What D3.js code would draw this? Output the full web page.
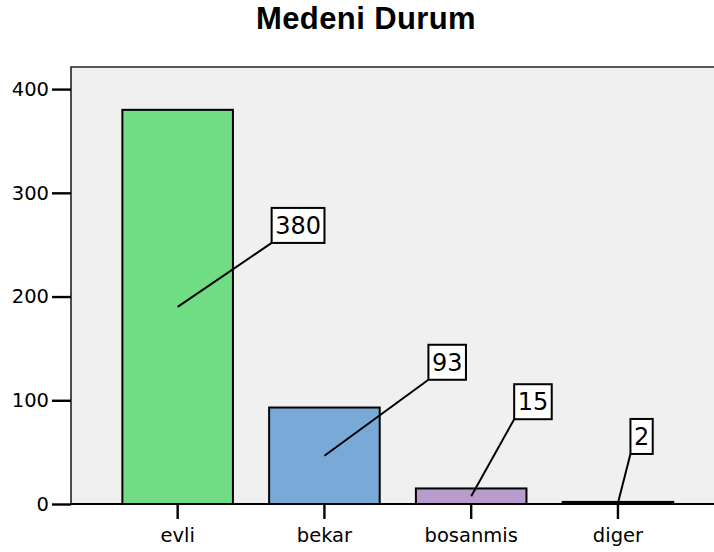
<!DOCTYPE html>
<html>
<head>
<meta charset="utf-8">
<script src="https://cdn.jsdelivr.net/npm/d3@7/dist/d3.min.js"></script>
<style>
  html, body { margin: 0; padding: 0; background: #ffffff; }
  svg { display: block; }
</style>
</head>
<body>
<svg id="chart" width="714" height="552"></svg>
<script>
// Marital status counts
const categories = ["evli", "bekar", "bosanmis", "diger"];
const counts = [380, 93, 15, 2];
const barColors = ["#70dc84", "#79a9d6", "#b99ccb", "#6e6e6e"];
const yTickValues = [0, 100, 200, 300, 400];
const titleText = "Medeni Durum";

// Callout box placement, relative to the middle of each bar
const calloutOffsets = [[94, -64], [104, -76], [43, -77], [12.5, -49]];

const svg = d3.select("#chart");
const plot = { left: 71, top: 67, right: 725, bottom: 504 };

const x = d3.scaleBand()
  .domain(categories)
  .range([plot.left, 724.6])
  .paddingInner(0.2466)
  .paddingOuter(0.35);

const y = d3.scaleLinear()
  .domain([0, 421.3])
  .range([plot.bottom, plot.top]);

// Title
svg.append("text")
  .attr("x", 366)
  .attr("y", 28.5)
  .attr("text-anchor", "middle")
  .attr("font-family", "'Liberation Sans', Arial, sans-serif")
  .attr("font-weight", "bold")
  .attr("font-size", 31)
  .attr("letter-spacing", 0.4)
  .attr("fill", "#000")
  .text(titleText);

// Plot background and frame
svg.append("rect")
  .attr("x", plot.left)
  .attr("y", plot.top)
  .attr("width", plot.right - plot.left)
  .attr("height", plot.bottom - plot.top)
  .attr("fill", "#f0f0f0");

svg.append("path")
  .attr("d", `M${plot.left},${plot.bottom}V${plot.top}H${plot.right}`)
  .attr("fill", "none")
  .attr("stroke", "#222")
  .attr("stroke-width", 1.6);

// Bars
svg.append("g")
  .selectAll("rect")
  .data(categories)
  .join("rect")
  .attr("x", d => x(d))
  .attr("y", (d, i) => y(counts[i]))
  .attr("width", x.bandwidth())
  .attr("height", (d, i) => y(0) - y(counts[i]))
  .attr("fill", (d, i) => barColors[i])
  .attr("stroke", "#000")
  .attr("stroke-width", 2);

// Baseline
svg.append("line")
  .attr("x1", plot.left)
  .attr("x2", plot.right)
  .attr("y1", y(0))
  .attr("y2", y(0))
  .attr("stroke", "#000")
  .attr("stroke-width", 2);

// Y axis
const yAxis = svg.append("g")
  .attr("transform", `translate(${plot.left},0)`)
  .call(d3.axisLeft(y).tickValues(yTickValues).tickSize(19).tickPadding(3).tickSizeOuter(0));
yAxis.select(".domain").remove();
yAxis.selectAll(".tick line").attr("stroke", "#000").attr("stroke-width", 2.4);
yAxis.selectAll(".tick text")
  .attr("font-family", "'DejaVu Sans', Verdana, sans-serif")
  .attr("font-size", 19.5)
  .attr("fill", "#000");

// X axis
const xAxis = svg.append("g")
  .attr("transform", `translate(0,${plot.bottom})`)
  .call(d3.axisBottom(x).tickSize(15).tickPadding(9.5).tickSizeOuter(0));
xAxis.select(".domain").remove();
xAxis.selectAll(".tick line").attr("stroke", "#000").attr("stroke-width", 2.4);
xAxis.selectAll(".tick text")
  .attr("font-family", "'DejaVu Sans', Verdana, sans-serif")
  .attr("font-size", 19.5)
  .attr("fill", "#000");

// Value callouts: leader line from the middle of each bar to a boxed label
const callouts = svg.append("g");
categories.forEach((c, i) => {
  const sx = x(c) + x.bandwidth() / 2;
  const sy = y(counts[i] / 2);
  const bx = sx + calloutOffsets[i][0];
  const by = sy + calloutOffsets[i][1];

  callouts.append("line")
    .attr("x1", sx).attr("y1", sy)
    .attr("x2", bx).attr("y2", by)
    .attr("stroke", "#000")
    .attr("stroke-width", 2);

  const g = callouts.append("g");
  const rect = g.append("rect")
    .attr("fill", "#fff")
    .attr("stroke", "#000")
    .attr("stroke-width", 2);
  const t = g.append("text")
    .attr("font-family", "'DejaVu Sans', Verdana, sans-serif")
    .attr("font-size", 24)
    .attr("fill", "#000")
    .attr("text-anchor", "middle")
    .text(counts[i]);
  const tw = t.node().getComputedTextLength();
  const bw = tw + 7, bh = 35;
  rect.attr("x", bx).attr("y", by - bh).attr("width", bw).attr("height", bh);
  t.attr("x", bx + bw / 2).attr("y", by - bh / 2).attr("dy", "0.36em");
});
</script>
</body>
</html>
